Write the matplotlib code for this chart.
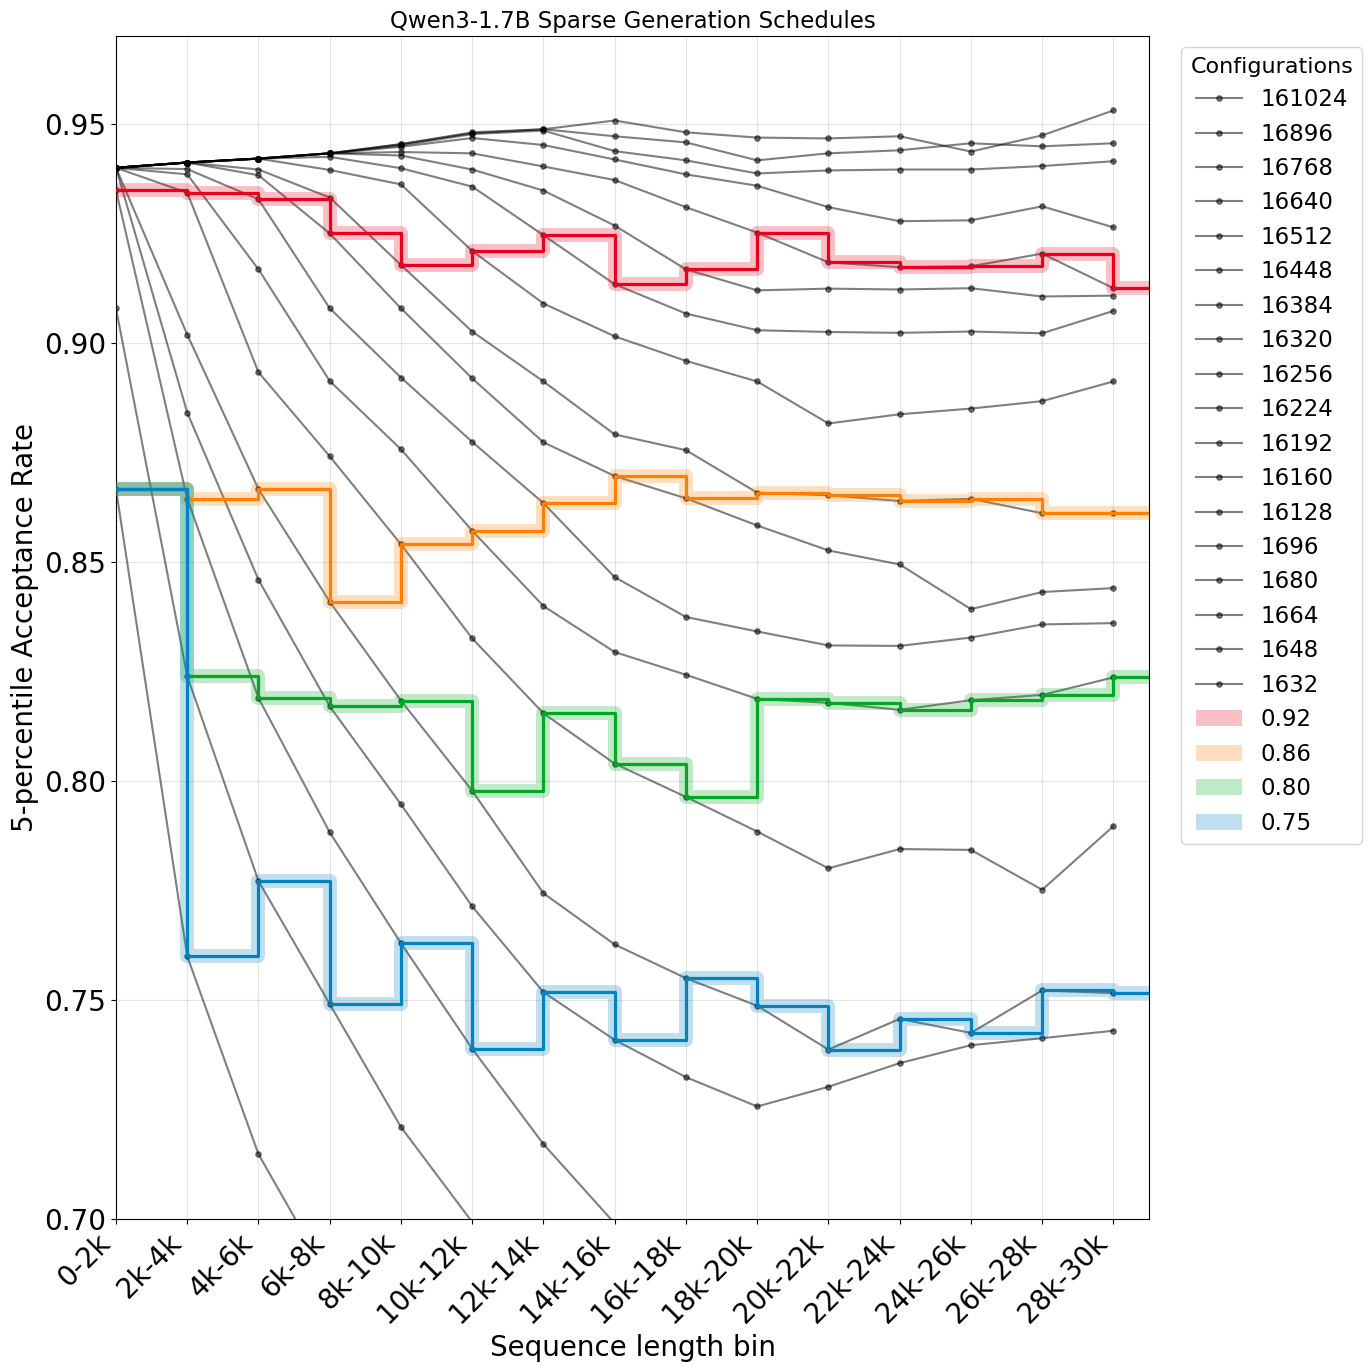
import numpy as np
import matplotlib
matplotlib.use("Agg")
import matplotlib.pyplot as plt
from matplotlib.patches import Patch

# ---------------- data ----------------
bins = ["0-2k", "2k-4k", "4k-6k", "6k-8k", "8k-10k", "10k-12k", "12k-14k",
        "14k-16k", "16k-18k", "18k-20k", "20k-22k", "22k-24k", "24k-26k",
        "26k-28k", "28k-30k"]

configs = ["161024", "16896", "16768", "16640", "16512", "16448", "16384",
           "16320", "16256", "16224", "16192", "16160", "16128", "1696",
           "1680", "1664", "1648", "1632"]

acc_161024 = [0.9401, 0.9413, 0.9422, 0.9434, 0.9455, 0.9482, 0.9489, 0.9509, 0.9482, 0.9470, 0.9468, 0.9473, 0.9438, 0.9475, 0.9532]
acc_16896 = [0.9401, 0.9413, 0.9422, 0.9434, 0.9455, 0.9480, 0.9489, 0.9473, 0.9459, 0.9418, 0.9434, 0.9441, 0.9457, 0.9450, 0.9457]
acc_16768 = [0.9401, 0.9413, 0.9422, 0.9434, 0.9452, 0.9478, 0.9486, 0.9439, 0.9418, 0.9388, 0.9395, 0.9397, 0.9397, 0.9405, 0.9416]
acc_16640 = [0.9401, 0.9413, 0.9422, 0.9434, 0.9449, 0.9469, 0.9453, 0.9420, 0.9386, 0.9360, 0.9311, 0.9279, 0.9281, 0.9313, 0.9265]
acc_16512 = [0.9401, 0.9413, 0.9422, 0.9434, 0.9437, 0.9434, 0.9404, 0.9373, 0.9311, 0.9253, 0.9185, 0.9174, 0.9176, 0.9205, 0.9126]
acc_16448 = [0.9401, 0.9413, 0.9422, 0.9434, 0.9429, 0.9397, 0.9349, 0.9269, 0.9169, 0.9121, 0.9125, 0.9123, 0.9126, 0.9107, 0.9109]
acc_16384 = [0.9401, 0.9413, 0.9422, 0.9426, 0.9400, 0.9358, 0.9247, 0.9135, 0.9068, 0.9030, 0.9026, 0.9024, 0.9027, 0.9023, 0.9074]
acc_16320 = [0.9401, 0.9413, 0.9422, 0.9396, 0.9363, 0.9211, 0.9091, 0.9016, 0.8960, 0.8913, 0.8817, 0.8838, 0.8851, 0.8868, 0.8913]
acc_16256 = [0.9401, 0.9413, 0.9397, 0.9333, 0.9179, 0.9027, 0.8913, 0.8792, 0.8756, 0.8659, 0.8653, 0.8640, 0.8645, 0.8612, 0.8612]
acc_16224 = [0.9401, 0.9413, 0.9384, 0.9251, 0.9080, 0.8920, 0.8774, 0.8697, 0.8646, 0.8584, 0.8527, 0.8495, 0.8393, 0.8432, 0.8441]
acc_16192 = [0.9401, 0.9398, 0.9329, 0.9080, 0.8922, 0.8775, 0.8635, 0.8466, 0.8375, 0.8342, 0.8310, 0.8309, 0.8328, 0.8358, 0.8361]
acc_16160 = [0.9401, 0.9386, 0.9169, 0.8914, 0.8758, 0.8572, 0.8400, 0.8295, 0.8243, 0.8188, 0.8179, 0.8163, 0.8185, 0.8197, 0.8237]
acc_16128 = [0.9401, 0.9344, 0.8934, 0.8742, 0.8541, 0.8326, 0.8155, 0.8040, 0.7964, 0.7885, 0.7801, 0.7845, 0.7843, 0.7752, 0.7897]
acc_1696 = [0.9401, 0.9020, 0.8667, 0.8410, 0.8184, 0.7978, 0.7744, 0.7627, 0.7550, 0.7487, 0.7387, 0.7457, 0.7425, 0.7522, 0.7516]
acc_1680 = [0.9401, 0.8842, 0.8460, 0.8171, 0.7947, 0.7714, 0.7518, 0.7409, 0.7324, 0.7257, 0.7302, 0.7356, 0.7397, 0.7413, 0.7430]
acc_1664 = [0.9350, 0.8645, 0.8190, 0.7883, 0.7630, 0.7389, 0.7171, 0.6990]
acc_1648 = [0.9080, 0.8240, 0.7772, 0.7491, 0.7210, 0.6993]
acc_1632 = [0.8667, 0.7600, 0.7148, 0.6862]

thresholds = ["0.92", "0.86", "0.80", "0.75"]
sched_092 = [0.9350, 0.9344, 0.9329, 0.9251, 0.9179, 0.9211, 0.9247, 0.9135, 0.9169, 0.9253, 0.9185, 0.9174, 0.9176, 0.9205, 0.9126]
sched_086 = [0.8667, 0.8645, 0.8667, 0.8410, 0.8541, 0.8572, 0.8635, 0.8697, 0.8646, 0.8659, 0.8653, 0.8640, 0.8645, 0.8612, 0.8612]
sched_080 = [0.8667, 0.8240, 0.8190, 0.8171, 0.8184, 0.7978, 0.8155, 0.8040, 0.7964, 0.8188, 0.8179, 0.8163, 0.8185, 0.8197, 0.8237]
sched_075 = [0.8667, 0.7600, 0.7772, 0.7491, 0.7630, 0.7389, 0.7518, 0.7409, 0.7550, 0.7487, 0.7387, 0.7457, 0.7425, 0.7522, 0.7516]

series = [acc_161024, acc_16896, acc_16768, acc_16640, acc_16512, acc_16448,
          acc_16384, acc_16320, acc_16256, acc_16224, acc_16192, acc_16160,
          acc_16128, acc_1696, acc_1680, acc_1664, acc_1648, acc_1632]
schedules = [sched_092, sched_086, sched_080, sched_075]
sched_colors = ["#e8001c", "#ff7f00", "#00a823", "#0082c3"]

# ---------------- plot ----------------
W, H = 1370, 1372
fig = plt.figure(figsize=(W / 100, H / 100), dpi=100)
ax = fig.add_axes([116 / W, 1 - 1219 / H, (1149 - 116) / W, (1219 - 36) / H])

handles = []
for name, vals in zip(configs, series):
    ln, = ax.plot(np.arange(len(vals)), vals, color="black", alpha=0.5, lw=1.5,
                  marker="o", ms=3.8, label=name, zorder=2)
    handles.append(ln)

for lab, col, vals in zip(thresholds, sched_colors, schedules):
    xs = np.arange(len(vals) + 1)
    ys = list(vals) + [vals[-1]]
    ax.plot(xs, ys, drawstyle="steps-post", color=col, alpha=0.25, lw=10,
            solid_joinstyle="round", solid_capstyle="butt", zorder=3)
    ax.plot(xs, ys, drawstyle="steps-post", color=col, lw=2.3, zorder=4)
    handles.append(Patch(facecolor=col, alpha=0.25, edgecolor="none", label=lab))

ax.set_xlim(0, 14.5)
ax.set_ylim(0.70, 0.9702)
ax.set_xticks(np.arange(len(bins)))
ax.set_xticklabels(bins, rotation=45, ha="right")
ax.tick_params(axis="both", labelsize=20)
ax.grid(True, alpha=0.35)
ax.set_xlabel("Sequence length bin", fontsize=20)
ax.set_ylabel("5-percentile Acceptance Rate", fontsize=20)
ax.set_title("Qwen3-1.7B Sparse Generation Schedules", fontsize=16.5)

ax.legend(handles=handles, title="Configurations", loc="upper left",
          bbox_to_anchor=(1.02, 1), fontsize=16.5, title_fontsize=16)

fig.savefig("out.png", dpi=100)
